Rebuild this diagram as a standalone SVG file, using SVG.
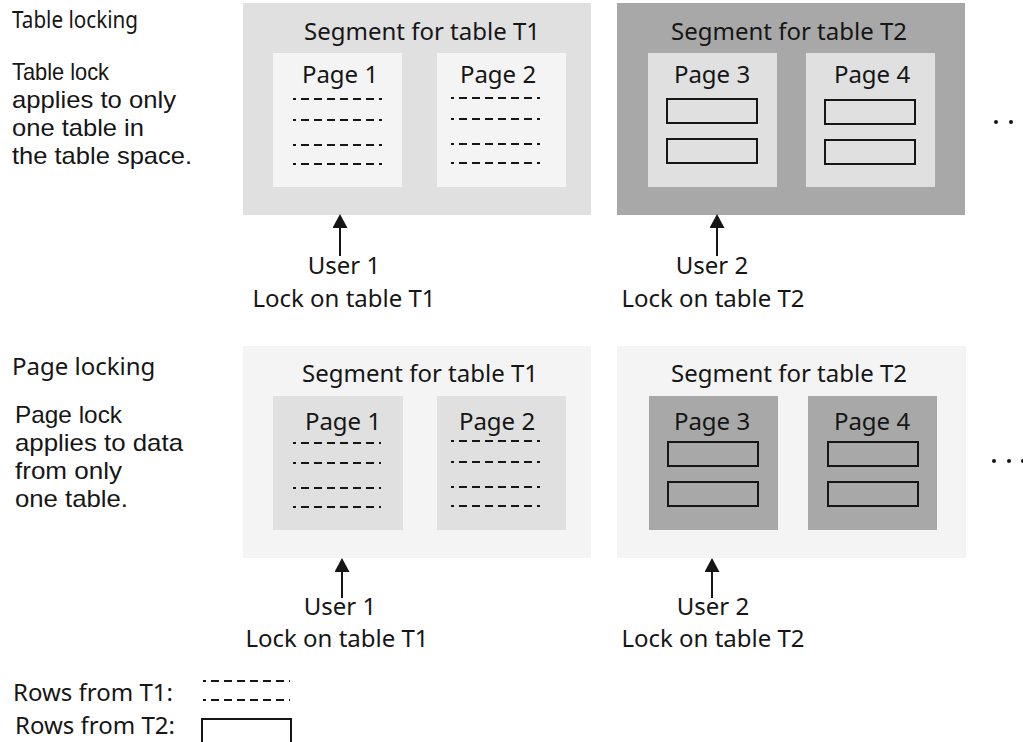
<svg xmlns="http://www.w3.org/2000/svg" width="1023" height="742" viewBox="0 0 1023 742">
<defs>
<style>
text{font-family:"Noto Sans","Liberation Sans",sans-serif;font-size:24px;fill:#161616}
.para{font-family:"Liberation Sans",Arial,sans-serif;font-size:24px}
.mid{text-anchor:middle}
.row1{stroke:#161616;stroke-width:2;stroke-dasharray:8 5;stroke-dashoffset:5;fill:none}
.row2{stroke:#161616;stroke-width:2;fill:none}
.conn{stroke:#161616;stroke-width:2;fill:none}
.g1{fill:#e0e0e0}.g0{fill:#f4f4f4}.g2{fill:#a8a8a8}
</style>
<marker id="ah" viewBox="0 0 14 15" refX="0" refY="7.5" markerWidth="14" markerHeight="15" markerUnits="userSpaceOnUse" orient="auto">
<path d="M0,0 L14,7.5 L0,15 z" fill="#161616"/>
</marker>
</defs>

<g id="labels-left">
<text x="12" y="28" font-size="22.5" textLength="126" lengthAdjust="spacingAndGlyphs">Table locking</text>
<text class="para" x="12" y="80" textLength="97" lengthAdjust="spacingAndGlyphs">Table lock</text>
<text class="para" x="12" y="108" textLength="164" lengthAdjust="spacingAndGlyphs">applies to only</text>
<text class="para" x="12" y="136" textLength="132" lengthAdjust="spacingAndGlyphs">one table in</text>
<text class="para" x="12" y="164" textLength="180" lengthAdjust="spacingAndGlyphs">the table space.</text>
<text x="12" y="375">Page locking</text>
<text class="para" x="15" y="423" textLength="107" lengthAdjust="spacingAndGlyphs">Page lock</text>
<text class="para" x="15" y="451" textLength="168" lengthAdjust="spacingAndGlyphs">applies to data</text>
<text class="para" x="15" y="479" textLength="107" lengthAdjust="spacingAndGlyphs">from only</text>
<text class="para" x="15" y="507" textLength="113" lengthAdjust="spacingAndGlyphs">one table.</text>
</g>

<g id="top-seg-t1">
<rect class="g1" x="243" y="3" width="348" height="212"/>
<text class="mid" x="422" y="40">Segment for table T1</text>
<rect class="g0" x="273" y="53" width="129" height="134"/>
<text class="mid" x="340" y="83">Page 1</text>
<line class="row1" x1="293" y1="99" x2="382" y2="99"/>
<line class="row1" x1="293" y1="120" x2="382" y2="120"/>
<line class="row1" x1="293" y1="145" x2="382" y2="145"/>
<line class="row1" x1="293" y1="164" x2="382" y2="164"/>
<rect class="g0" x="437" y="53" width="129" height="134"/>
<text class="mid" x="498" y="83">Page 2</text>
<line class="row1" x1="451" y1="98" x2="540" y2="98"/>
<line class="row1" x1="451" y1="119" x2="540" y2="119"/>
<line class="row1" x1="451" y1="144" x2="540" y2="144"/>
<line class="row1" x1="451" y1="163" x2="540" y2="163"/>
</g>

<g id="top-seg-t2">
<rect class="g2" x="617" y="3" width="348" height="212"/>
<text class="mid" x="789" y="40">Segment for table T2</text>
<rect class="g1" x="648" y="53" width="129" height="134"/>
<text class="mid" x="712" y="83">Page 3</text>
<rect class="row2" x="667" y="99" width="90" height="24"/>
<rect class="row2" x="667" y="139" width="90" height="24"/>
<rect class="g1" x="806" y="53" width="129" height="134"/>
<text class="mid" x="872" y="83">Page 4</text>
<rect class="row2" x="825" y="100" width="90" height="24"/>
<rect class="row2" x="825" y="140" width="90" height="24"/>
</g>

<g id="top-dots" fill="#161616">
<circle cx="996" cy="122" r="2"/>
<circle cx="1011" cy="122" r="2"/>
</g>

<g id="top-user1">
<text class="mid" x="344" y="274">User 1</text>
<text class="mid" x="344" y="307">Lock on table T1</text>
</g>
<g id="top-user2">
<text class="mid" x="712" y="274">User 2</text>
<text class="mid" x="713" y="307">Lock on table T2</text>
</g>

<g id="bottom-seg-t1">
<rect class="g0" x="243" y="346" width="348" height="212"/>
<text class="mid" x="420" y="382">Segment for table T1</text>
<rect class="g1" x="273" y="396" width="130" height="134"/>
<text class="mid" x="343" y="430">Page 1</text>
<line class="row1" x1="293" y1="443" x2="381" y2="443"/>
<line class="row1" x1="293" y1="463" x2="381" y2="463"/>
<line class="row1" x1="293" y1="488" x2="381" y2="488"/>
<line class="row1" x1="293" y1="507" x2="381" y2="507"/>
<rect class="g1" x="437" y="396" width="129" height="134"/>
<text class="mid" x="497" y="430">Page 2</text>
<line class="row1" x1="451" y1="441" x2="540" y2="441"/>
<line class="row1" x1="451" y1="462" x2="540" y2="462"/>
<line class="row1" x1="451" y1="487" x2="540" y2="487"/>
<line class="row1" x1="451" y1="506" x2="540" y2="506"/>
</g>

<g id="bottom-seg-t2">
<rect class="g0" x="617" y="346" width="349" height="212"/>
<text class="mid" x="789" y="382">Segment for table T2</text>
<rect class="g2" x="649" y="396" width="129" height="134"/>
<text class="mid" x="712" y="430">Page 3</text>
<rect class="row2" x="668" y="442" width="90" height="24"/>
<rect class="row2" x="668" y="482" width="90" height="24"/>
<rect class="g2" x="808" y="396" width="129" height="134"/>
<text class="mid" x="872" y="430">Page 4</text>
<rect class="row2" x="828" y="442" width="90" height="24"/>
<rect class="row2" x="828" y="482" width="90" height="24"/>
</g>

<g id="bottom-dots" fill="#161616">
<circle cx="994" cy="461" r="2"/>
<circle cx="1009" cy="461" r="2"/>
<circle cx="1023" cy="461" r="2"/>
</g>

<g id="bottom-user1">
<text class="mid" x="340" y="615">User 1</text>
<text class="mid" x="337" y="647">Lock on table T1</text>
</g>
<g id="bottom-user2">
<text class="mid" x="713" y="615">User 2</text>
<text class="mid" x="713" y="647">Lock on table T2</text>
</g>

<g id="connectors">
<line class="conn" x1="340" y1="256" x2="340" y2="228" marker-end="url(#ah)"/>
<line class="conn" x1="717" y1="256" x2="717" y2="228" marker-end="url(#ah)"/>
<line class="conn" x1="342" y1="598" x2="342" y2="572" marker-end="url(#ah)"/>
<line class="conn" x1="712" y1="598" x2="712" y2="572" marker-end="url(#ah)"/>
</g>

<g id="legend">
<text x="13" y="701">Rows from T1:</text>
<text x="15" y="734">Rows from T2:</text>
<line class="row1" x1="203" y1="681" x2="290" y2="681"/>
<line class="row1" x1="203" y1="700" x2="290" y2="700"/>
<rect class="row2" x="202" y="719" width="89" height="26"/>
</g>
</svg>
